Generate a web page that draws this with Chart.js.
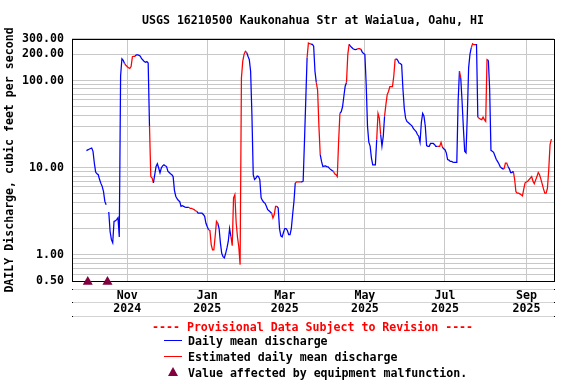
<!DOCTYPE html>
<html>
<head>
<meta charset="utf-8">
<script src="https://cdn.jsdelivr.net/npm/chart.js@4.4.0/dist/chart.umd.min.js"></script>
<style>
  body { margin: 0; background: #fff; }
  #wrap { position: relative; width: 576px; height: 384px; font: bold 11.6px 'DejaVu Sans Mono', monospace; color: #000; }
  #flowChart { display: block; }
  .lg { position: absolute; line-height: 14px; white-space: pre; }
  .sw { position: absolute; width: 18px; height: 1px; }
  .tri { position: absolute; width: 0; height: 0; border-left: 5.5px solid transparent; border-right: 5.5px solid transparent; border-bottom: 9px solid #800040; }
</style>
</head>
<body>
<div id="wrap">
  <canvas id="flowChart" width="576" height="384"></canvas>
  <div class="lg" style="left:152px; top:320px; color:#ff0000;">---- Provisional Data Subject to Revision ----</div>
  <div class="sw" style="left:164px; top:340px; background:#0000ff;"></div>
  <div class="lg" style="left:188px; top:334px;">Daily mean discharge</div>
  <div class="sw" style="left:164px; top:356px; background:#ff0000;"></div>
  <div class="lg" style="left:188px; top:350px;">Estimated daily mean discharge</div>
  <div class="tri" style="left:168px; top:367px;"></div>
  <div class="lg" style="left:188px; top:366px;">Value affected by equipment malfunction.</div>
</div>
<script>
// Daily mean discharge (cfs), one value per day starting 2024-10-01 (index = day)
const discharge = [
  15.7, 16.0, 16.3, 16.6, 16.8, 15.4, 11.3, 8.9, 8.5, 8.3,
  7.3, 6.6, 6.1, 5.3, 4.1, 3.75, null, 3.1, 1.85, 1.49,
  1.37, 2.42, 2.45, 2.53, 2.66, 1.6, 113, 178, 171, 157,
  150, 145, 140, 138, 145, 188, 190, 190, 197, 197,
  195, 190, 178, 172, 165, 162, 165, 159, 30, 7.9,
  7.6, 6.7, 8.3, 10.3, 11.1, 9.9, 8.7, 9.9, 10.5, 10.8,
  10.5, 10.3, 9.1, 8.8, 8.5, 8.3, 7.9, 5.5, 4.7, 4.4,
  4.2, 4.1, 3.6, 3.66, 3.6, 3.53, 3.5, 3.5, 3.5, 3.4,
  3.4, 3.35, 3.3, 3.2, 3.15, 3.0, 3.0, 3.0, 3.0, 2.9,
  2.76, 2.3, 2.1, 1.94, 1.9, 1.31, 1.14, 1.14, 1.62, 2.42,
  2.3, 2.0, 1.37, 1.04, 0.95, 0.92, 1.04, 1.2, 1.43, 2.0,
  1.62, 1.27, 4.5, 4.9, 2.33, 1.6, 1.23, 0.77, 107, 166,
  200, 217, 210, 190, 174, 128, 40, 8.3, 7.3, 7.6,
  8.0, 7.9, 7.3, 4.5, 4.2, 4.0, 3.9, 3.6, 3.3, 3.2,
  3.1, 3.0, 2.64, 2.9, 3.6, 3.6, 3.45, 2.0, 1.65, 1.6,
  1.8, 2.0, 2.0, 1.9, 1.7, 1.7, 2.0, 2.9, 4.1, 6.7,
  6.85, 6.85, 6.85, 6.85, 6.85, 7.0, 20, 60, 183, 270,
  265, 262, 260, 248, 128, 95, 78, 30, 14.1, 11.8,
  10.3, 10.4, 10.5, 10.3, 10.2, 9.8, 9.5, 9.3, 9.1, 8.5,
  8.3, 7.9, 20, 42, 44, 50, 66, 86, 95, 200,
  260, 248, 240, 232, 228, 227, 230, 232, 232, 228,
  212, 205, 200, 90, 30, 19.6, 17.7, 12.9, 10.8, 10.8,
  10.8, 20.9, 42, 37, 24, 17.7, 22.9, 39, 53, 69,
  75, 85, 85, 85, 112, 174, 178, 171, 159, 157,
  152, 79, 48, 37, 34, 33, 32, 31, 30, 28,
  27, 26, 24, 23, 19.6, 33, 42, 39, 30, 17.9,
  17.6, 17.6, 19, 19, 19, 18.5, 17.6, 17.6, 17.6, 17.6,
  19.5, 17.2, 16.5, 16.1, 14.8, 12.4, 12.2, 11.8, 11.8, 11.6,
  11.5, 11.5, 11.5, 58, 128, 107, 58, 28.6, 15.4, 14.8,
  40, 140, 200, 238, 265, 258, 258, 258, 38, 37,
  36, 35.6, 38, 35.6, 34, 174, 171, 80, 15.8, 15.4,
  15.0, 13.7, 12.5, 11.8, 11.1, 10.3, 9.9, 9.7, 9.7, 11.3,
  11.3, 10.3, 9.7, 8.8, 8.8, 9.1, 7.4, 5.3, 5.1, 5.1,
  5.0, 4.9, 4.76, 5.7, 6.7, 6.85, 7.0, 7.3, 7.6, 7.9,
  7.0, 6.55, 7.2, 7.9, 8.8, 8.3, 7.4, 6.5, 5.7, 5.1,
  5.1, 5.8, 9.5, 18.4, 21.3
];

// Day ranges (inclusive) flagged as estimated
const estimatedSpans = [
  [30, 37], [49, 51], [79, 84], [94, 100], [111, 122], [142, 145], [160, 163],
  [169, 171], [176, 178], [189, 193], [199, 200], [207, 209], [222, 224], [228, 236],
  [268, 271], [285, 285], [294, 296], [299, 306], [319, 321], [326, 354]
];

// Days with values affected by equipment malfunction
const malfunctionDays = [1, 16];

// Month ticks (day offsets from 2024-10-01) and their labels
const monthTickDays = [31, 92, 151, 212, 273, 335];
const monthTickLabels = [['Nov', '2024'], ['Jan', '2025'], ['Mar', '2025'], ['May', '2025'], ['Jul', '2025'], ['Sep', '2025']];

// Log axis grid lines and the ones that get a label
const yGridValues = [0.5, 0.6, 0.7, 0.8, 0.9, 1, 2, 3, 4, 5, 6, 7, 8, 9, 10, 20, 30, 40, 50, 60, 70, 80, 90, 100, 200, 300];
const yLabelValues = [0.5, 1, 10, 100, 200, 300];

const BLUE = '#0000ff';
const RED = '#ff0000';
const monoFont = { family: "'DejaVu Sans Mono', monospace", size: 11.6, weight: 'bold', lineHeight: 1.12 };

const isEstimated = day => estimatedSpans.some(([a, b]) => day >= a && day <= b);

// Frame around the plot and the light separator rows under the x axis
const framePlugin = {
  id: 'frame',
  beforeDatasetsDraw(chart) {
    const { ctx, chartArea: a } = chart;
    ctx.save();
    ctx.strokeStyle = '#000';
    ctx.lineWidth = 1;
    ctx.strokeRect(Math.round(a.left) + 0.5, Math.round(a.top) + 0.5, Math.round(a.right - a.left), Math.round(a.bottom - a.top));
    [289, 302, 316].forEach(y => {
      ctx.strokeStyle = '#d4d4d4';
      ctx.beginPath();
      ctx.moveTo(a.left, y + 0.5);
      ctx.lineTo(a.right + 1, y + 0.5);
      ctx.stroke();
      ctx.fillStyle = '#000';
      ctx.fillRect(Math.round(a.left), y, 1, 1);
      ctx.fillRect(Math.round(a.right), y, 1, 1);
    });
    ctx.restore();
  }
};

const ctx = document.getElementById('flowChart').getContext('2d');

const flowChart = new Chart(ctx, {
  type: 'line',
  data: {
    datasets: [
      {
        label: 'Daily mean discharge',
        data: discharge.map((v, i) => ({ x: i, y: v })),
        borderColor: BLUE,
        borderWidth: 1.25,
        pointRadius: 0,
        spanGaps: false,
        segment: {
          borderColor: c => isEstimated(c.p1DataIndex) ? RED : BLUE
        }
      },
      {
        label: 'Value affected by equipment malfunction.',
        data: malfunctionDays.map(d => ({ x: d, y: 0.49 })),
        showLine: false,
        pointStyle: 'triangle',
        pointRadius: 5.8,
        pointBackgroundColor: '#800040',
        pointBorderWidth: 0,
        clip: false
      }
    ]
  },
  options: {
    responsive: false,
    animation: false,
    layout: { padding: { left: 0, right: 22, top: 0, bottom: 0 } },
    plugins: {
      legend: { display: false },
      tooltip: { enabled: false },
      title: {
        display: true,
        fullSize: false,
        text: 'USGS 16210500 Kaukonahua Str at Waialua, Oahu, HI',
        color: '#000',
        font: monoFont,
        padding: { top: 14, bottom: 12 }
      }
    },
    scales: {
      x: {
        type: 'linear',
        min: -11,
        max: 356,
        afterBuildTicks: s => { s.ticks = monthTickDays.map(v => ({ value: v })); },
        afterFit: s => { s.height = 103; },
        grid: { color: '#c8c8c8', drawTicks: false },
        border: { display: false },
        ticks: {
          autoSkip: false,
          maxRotation: 0,
          padding: 8,
          color: '#000',
          font: monoFont,
          callback: v => monthTickLabels[monthTickDays.indexOf(v)]
        }
      },
      y: {
        type: 'logarithmic',
        min: 0.5,
        max: 300,
        afterBuildTicks: s => { s.ticks = yGridValues.map(v => ({ value: v })); },
        afterFit: s => { s.width = 72; },
        grid: { color: '#c8c8c8', drawTicks: false },
        border: { display: false },
        ticks: {
          autoSkip: false,
          padding: 8,
          color: '#000',
          font: monoFont,
          callback: v => yLabelValues.includes(v) ? v.toFixed(2) : ''
        },
        title: {
          display: true,
          text: 'DAILY Discharge, cubic feet per second',
          color: '#000',
          font: monoFont,
          padding: { top: 3, bottom: 0 }
        }
      }
    }
  },
  plugins: [framePlugin]
});
</script>
</body>
</html>
